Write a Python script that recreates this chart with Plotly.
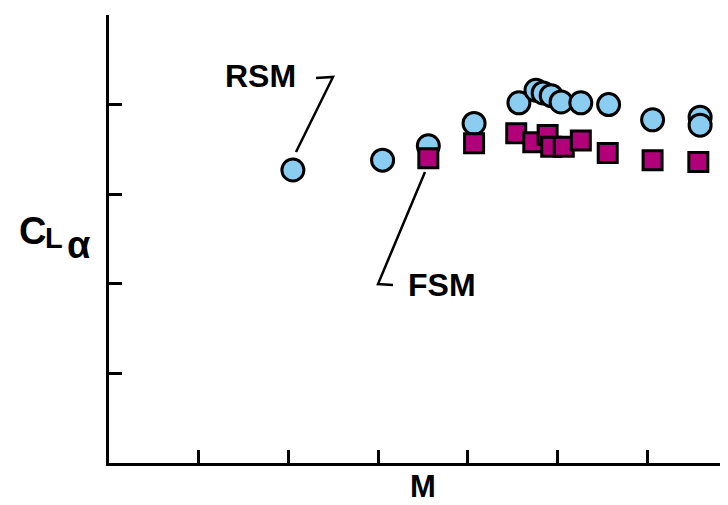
import plotly.graph_objects as go

# Data
rsm_m = [2.05, 3.05, 3.56, 4.07, 4.57, 4.76, 4.84, 4.93, 5.04, 5.26, 5.57, 6.06, 6.59, 6.59]
rsm_cla = [3.27, 3.38, 3.54, 3.79, 4.02, 4.16, 4.13, 4.10, 4.03, 4.02, 4.00, 3.83, 3.86, 3.77]
fsm_m = [3.56, 4.07, 4.54, 4.73, 4.89, 4.93, 5.07, 5.26, 5.56, 6.06, 6.57]
fsm_cla = [3.40, 3.57, 3.68, 3.58, 3.66, 3.53, 3.53, 3.60, 3.46, 3.38, 3.36]
x_ticks = [1, 2, 3, 4, 5, 6]
y_ticks = [1, 2, 3, 4, 5]

# page has an 8px body margin; figure sized to fit the 728x505 window
OFF = 8
W, H = 728 - OFF, 505 - OFF
PL, PT, PB, PR = 109, 15, 463, 728  # plot area in window pixels
PW, PH = PR - PL, PB - PT

def px(x):
    return (x - PL) / PW

def py(y):
    return (PB - y) / PH

BLUE = "#8BCDF0"
MAG = "#B1007A"

fig = go.Figure()
fig.add_trace(go.Scatter(
    x=rsm_m, y=rsm_cla, mode="markers", name="RSM",
    marker=dict(symbol="circle", size=22, color=BLUE, line=dict(color="black", width=3)),
    cliponaxis=False))
fig.add_trace(go.Scatter(
    x=fsm_m, y=fsm_cla, mode="markers", name="FSM",
    marker=dict(symbol="square", size=19, color=MAG, line=dict(color="black", width=3)),
    cliponaxis=False))

font_b = dict(family="Liberation Sans, Arial, sans-serif", size=32, color="black", weight="bold")

annotations = [
    dict(text="RSM", x=px(260), y=py(76), font=font_b, yanchor="middle"),
    dict(text="FSM", x=px(442), y=py(285), font=font_b, yanchor="middle"),
    dict(text="M", x=px(423), y=py(504.5), font=dict(font_b, size=31), yanchor="bottom", borderpad=0),
    dict(text="C", x=px(32), y=py(231), font=dict(font_b, size=38), yanchor="middle"),
    dict(text="L", x=px(54), y=py(238), font=dict(font_b, size=29), yanchor="middle"),
    dict(text="α", x=px(78), y=py(245), font=dict(font_b, size=38), yanchor="middle"),
]
for a in annotations:
    a.update(xref="paper", yref="paper", showarrow=False, xanchor="center")

def path(points):
    return "M " + " L ".join(f"{px(x):.5f},{py(y):.5f}" for x, y in points)

shapes = [
    dict(type="path", path=path([(316, 78), (333, 77), (296, 152)]), xref="paper", yref="paper",
         line=dict(color="black", width=2.5)),
    dict(type="path", path=path([(425, 172), (378, 284), (393, 285)]), xref="paper", yref="paper",
         line=dict(color="black", width=2.5)),
]

fig.update_layout(
    width=W, height=H,
    margin=dict(l=PL - OFF, r=W - (PR - OFF), t=PT - OFF, b=H - (PB - OFF)),
    paper_bgcolor="white", plot_bgcolor="white",
    showlegend=False,
    annotations=annotations,
    shapes=shapes,
    xaxis=dict(range=[0, PW / 89.7], tickvals=x_ticks, ticks="inside", ticklen=13, tickwidth=3,
               tickcolor="black", showticklabels=False, showgrid=False, zeroline=False,
               showline=True, linecolor="black", linewidth=3),
    yaxis=dict(range=[0, 5], tickvals=y_ticks, ticks="inside", ticklen=13, tickwidth=3,
               tickcolor="black", showticklabels=False, showgrid=False, zeroline=False,
               showline=True, linecolor="black", linewidth=3),
)

fig.write_html("out.html")
